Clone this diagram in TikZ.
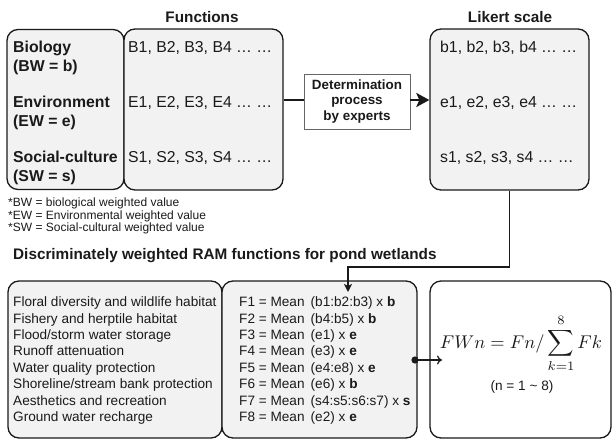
\documentclass[tikz,border=0pt]{standalone}
\usepackage{amsmath}
\usepackage{graphicx}
\usepackage{fontspec}
\setmainfont{Liberation Sans}
\usetikzlibrary{arrows.meta}
\definecolor{boxfill}{HTML}{F2F2F2}
\definecolor{ink}{HTML}{1A1A1A}
\definecolor{detedge}{HTML}{666666}
\begin{document}
\begin{tikzpicture}[x=1pt,y=-1pt,
  rbox/.style={draw=ink, line width=1.3pt, fill=boxfill, rounded corners=11pt, inner sep=0pt},
  wbox/.style={rbox, fill=white},
  detbox/.style={draw=detedge, line width=0.9pt, fill=white, inner sep=0pt, align=center,
     text=ink, font=\fontsize{13.4}{15.7}\selectfont\bfseries},
  big/.style={inner sep=0pt, anchor=base west, text=ink, font=\fontsize{15.8}{19}\selectfont},
  bigb/.style={big, font=\fontsize{15.8}{19}\selectfont\bfseries},
  head/.style={inner sep=0pt, anchor=base, text=ink, font=\fontsize{15.3}{18}\selectfont\bfseries},
  note/.style={inner sep=0pt, anchor=base west, text=ink, font=\fontsize{12}{13}\selectfont},
  small/.style={inner sep=0pt, anchor=base west, text=ink, font=\fontsize{13.6}{16}\selectfont},
  thickline/.style={draw=ink, line width=2.8pt},
  midline/.style={draw=ink, line width=1.8pt},
  thinline/.style={draw=ink, line width=1.2pt}
]
\useasboundingbox (0,0) rectangle (612,441);

% ---------- top boxes ----------
\node[rbox, minimum width=117pt, minimum height=160pt] (bio) at (65.5,109.5) {};
\node[rbox, minimum width=159pt, minimum height=161pt] (fun) at (203.5,109.5) {};
\node[rbox, minimum width=159pt, minimum height=161pt] (lik) at (509.5,109.5) {};

% connectors top
\draw[thickline] (fun.east |- 0,100) coordinate (fe) -- (304,100) coordinate (dw);
\node[detbox, minimum width=106pt, minimum height=55pt] (det) at (357,101.5)
   {Determination\\process\\by experts};
\draw[thickline, -{Stealth[length=13pt,width=14pt,inset=3pt]}] (det.east |- dw) -- (lik.west |- dw);

% headings
\node[head] (hfun) at (202,22.5) {Functions};
\node[head] (hlik) at (510,22.5) {Likert scale};

% left column
\node[bigb] (t1) at (13,52.5) {Biology};
\node[bigb] (t2) at (13,71.5) {(BW = b)};
\node[bigb] (t3) at (13,107.5) {Environment};
\node[bigb] (t4) at (13,126.5) {(EW = e)};
\node[bigb] (t5) at (13,162.5) {Social-culture};
\node[bigb] (t6) at (13,181.5) {(SW = s)};

% functions column
\node[big] (f1) at (128,52.5) {B1, B2, B3, B4 … …};
\node[big] (f2) at (128,107.5) {E1, E2, E3, E4 … …};
\node[big] (f3) at (128,162.5) {S1, S2, S3, S4 … …};

% likert column
\node[big] (l1) at (440,52.5) {b1, b2, b3, b4 … …};
\node[big] (l2) at (440,107.5) {e1, e2, e3, e4 … …};
\node[big] (l3) at (440,162.5) {s1, s2, s3, s4 … …};

% footnotes
\node[note] (n1) at (8,206.5) {*BW = biological weighted value};
\node[note] (n2) at (8,219) {*EW = Environmental weighted value};
\node[note] (n3) at (8,231.5) {*SW = Social-cultural weighted value};

% title
\node[head, anchor=base west] (title) at (13,259) {Discriminately weighted RAM functions for pond wetlands};

% ---------- bottom boxes ----------
\node[rbox, minimum width=214pt, minimum height=157pt] (hab) at (115,359.5) {};
\node[rbox, minimum width=195pt, minimum height=157pt] (fbx) at (319.5,359.5) {};
\node[wbox, minimum width=181pt, minimum height=157pt] (frm) at (520.5,359.5) {};

% connector from likert to F box
\coordinate (c1) at (509.5,267);
\coordinate (c2) at (348,267);
\coordinate (tipF) at (348,292);
\draw[midline, -{Stealth[length=8pt,width=8pt,inset=2pt]}] (lik.south) -- (c1) -- (c2) -- (tipF);

% habitat list
\foreach \t [count=\i] in {Floral diversity and wildlife habitat,
  Fishery and herptile habitat, Flood/storm water storage, Runoff attenuation,
  Water quality protection, Shoreline/stream bank protection,
  Aesthetics and recreation, Ground water recharge}
  \node[small, name=h\i] at (13,{306.7+16.4*(\i-1)}) {\t};

% F list
\foreach \t [count=\i] in {{F1 = Mean\hspace{0.45em}(b1:b2:b3) x \textbf{b}},
  {F2 = Mean\hspace{0.45em}(b4:b5) x \textbf{b}},
  {F3 = Mean\hspace{0.45em}(e1) x \textbf{e}},
  {F4 = Mean\hspace{0.45em}(e3) x \textbf{e}},
  {F5 = Mean\hspace{0.45em}(e4:e8) x \textbf{e}},
  {F6 = Mean\hspace{0.45em}(e6) x \textbf{b}},
  {F7 = Mean\hspace{0.45em}(s4:s5:s6:s7) x \textbf{s}},
  {F8 = Mean\hspace{0.45em}(e2) x \textbf{e}}}
  \node[small, name=F\i] at (239,{306.7+16.4*(\i-1)}) {\t};

% dot arrow
\coordinate (dot) at (415,360);
\coordinate (arrowend) at (442,360);
\fill[ink] (dot) circle (3.6pt);
\draw[thinline, -{To[length=5pt,width=9pt]}] (dot) -- (arrowend);

% formula
\node[inner sep=0pt, anchor=base, text=ink] (eq) at (521,348)
  {\resizebox{162pt}{!}{$\displaystyle FWn = Fn/\sum_{k=1}^{8} Fk$}};
\node[small, anchor=base] (nrange) at (522,390) {(n = 1 \textasciitilde{} 8)};
\end{tikzpicture}
\end{document}
